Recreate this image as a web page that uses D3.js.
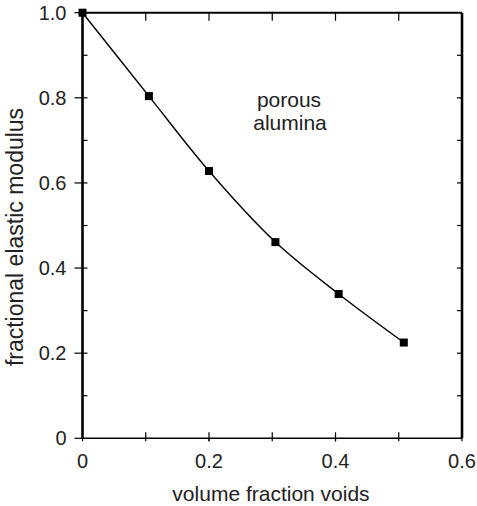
<!DOCTYPE html>
<html><head><meta charset="utf-8">
<script src="https://cdn.jsdelivr.net/npm/d3@7"></script>
<style>body{margin:0;background:#fff}svg{display:block;font-family:"Liberation Sans",Arial,Helvetica,sans-serif}</style>
</head><body><svg id="c" width="477" height="506"></svg>
<script>
const voidFraction = [0, 0.105, 0.2, 0.305, 0.405, 0.508];
const modulus = [1.0, 0.804, 0.628, 0.461, 0.339, 0.225];
const xTickLabels = [0, 0.2, 0.4, 0.6];
const yTickLabels = [0, 0.2, 0.4, 0.6, 0.8, 1.0];
const minorX = [0.1, 0.2, 0.3, 0.4, 0.5];
const minorY = [0.1, 0.2, 0.3, 0.4, 0.5, 0.6, 0.7, 0.8, 0.9];

const svg = d3.select("#c");
const x = d3.scaleLinear().domain([0, 0.6]).range([82.5, 462]);
const y = d3.scaleLinear().domain([0, 1]).range([438.3, 12.7]);
const ink = "#000", txt = "#222";

// frame
svg.append("line").attr("x1", x(0)).attr("x2", x(0.6)).attr("y1", y(1)).attr("y2", y(1)).attr("stroke", ink).attr("stroke-width", 2);
svg.append("line").attr("x1", x(0)).attr("x2", x(0.6)).attr("y1", y(0)).attr("y2", y(0)).attr("stroke", ink).attr("stroke-width", 1.6);
svg.append("line").attr("x1", x(0)).attr("x2", x(0)).attr("y1", y(0)).attr("y2", y(1)).attr("stroke", ink).attr("stroke-width", 2.6);
svg.append("line").attr("x1", x(0.6)).attr("x2", x(0.6)).attr("y1", y(0)).attr("y2", y(1)).attr("stroke", ink).attr("stroke-width", 2.6);

// minor ticks
minorX.forEach(v => {
  svg.append("line").attr("x1", x(v)).attr("x2", x(v)).attr("y1", y(0) - 6).attr("y2", y(0) + 3).attr("stroke", ink).attr("stroke-width", 1.2);
  svg.append("line").attr("x1", x(v)).attr("x2", x(v)).attr("y1", y(1)).attr("y2", y(1) + 8).attr("stroke", ink).attr("stroke-width", 1.2);
});
minorY.forEach(v => {
  svg.append("line").attr("x1", x(0)).attr("x2", x(0) + 5).attr("y1", y(v)).attr("y2", y(v)).attr("stroke", ink).attr("stroke-width", 1.2);
  svg.append("line").attr("x1", x(0.6) - 5).attr("x2", x(0.6)).attr("y1", y(v)).attr("y2", y(v)).attr("stroke", ink).attr("stroke-width", 1.2);
});
// outward ticks at labels
yTickLabels.forEach(v => {
  svg.append("line").attr("x1", x(0) - 8).attr("x2", x(0)).attr("y1", y(v)).attr("y2", y(v)).attr("stroke", ink).attr("stroke-width", 1.2);
});
xTickLabels.forEach(v => {
  svg.append("line").attr("x1", x(v)).attr("x2", x(v)).attr("y1", y(0)).attr("y2", y(0) + 3).attr("stroke", ink).attr("stroke-width", 1.2);
});

// tick labels
svg.selectAll(".xl").data(xTickLabels).enter().append("text")
  .attr("x", d => x(d)).attr("y", y(0) + 30).attr("text-anchor", "middle")
  .attr("font-size", 20).attr("fill", txt)
  .text(d => d === 0 ? "0" : d3.format(".1f")(d));
svg.selectAll(".yl").data(yTickLabels).enter().append("text")
  .attr("x", x(0) - 16).attr("y", d => y(d) + 7).attr("text-anchor", "end")
  .attr("font-size", 20).attr("fill", txt)
  .text(d => d === 0 ? "0" : d3.format(".1f")(d));

// axis titles
svg.append("text").attr("x", 271).attr("y", 501).attr("text-anchor", "middle")
  .attr("font-size", 21).attr("fill", txt).text("volume fraction voids");
svg.append("text").attr("transform", "translate(23,237) rotate(-90)").attr("text-anchor", "middle")
  .attr("font-size", 23).attr("fill", txt).text("fractional elastic modulus");

// annotation
svg.append("text").attr("x", 289).attr("y", 107).attr("text-anchor", "middle")
  .attr("font-size", 21).attr("fill", txt).text("porous");
svg.append("text").attr("x", 290).attr("y", 130).attr("text-anchor", "middle")
  .attr("font-size", 21).attr("fill", txt).text("alumina");

// curve
const pts = voidFraction.map((v, i) => [v, modulus[i]]);
svg.append("path").datum(pts)
  .attr("d", d3.line().x(d => x(d[0])).y(d => y(d[1])).curve(d3.curveCatmullRom))
  .attr("fill", "none").attr("stroke", ink).attr("stroke-width", 1.4);

// markers
svg.selectAll(".pt").data(pts).enter().append("rect")
  .attr("x", d => x(d[0]) - 4).attr("y", d => y(d[1]) - 4)
  .attr("width", 8).attr("height", 8).attr("fill", ink);
</script>
</body></html>
